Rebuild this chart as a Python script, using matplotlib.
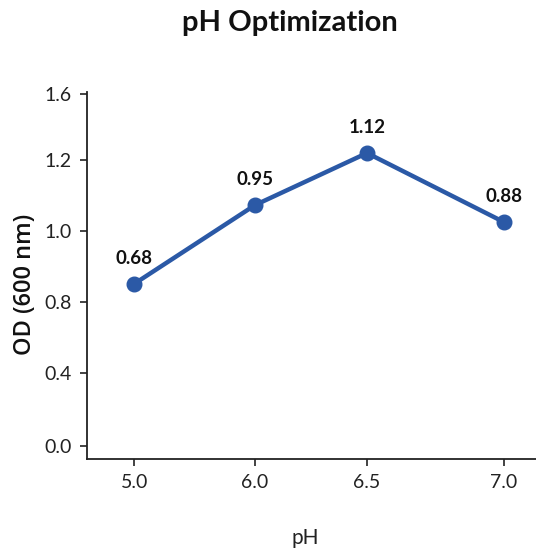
import numpy as np
import matplotlib
matplotlib.use("Agg")
import matplotlib.pyplot as plt

plt.rcParams['font.family'] = ['Lato', 'DejaVu Sans']

# data
ph_labels = ["5.0", "6.0", "6.5", "7.0"]
ph = [5.0, 6.0, 6.5, 7.0]
od_labels = ["0.68", "0.95", "1.12", "0.88"]   # printed values
od_drawn = [0.851, 1.073, 1.242, 1.025]         # where the dots sit on the axis
y_ticks = [0.0, 0.4, 0.8, 1.0, 1.2, 1.6]

# the picture's axes are not linear -> piecewise scale through the tick spots
x_spots = [0, 121, 233, 370]
y_spots = [0, 73, 144, 215, 286, 352]

def piecewise(v, xs, ys):
    v = np.asarray(v, dtype=float)
    out = np.interp(v, xs, ys)
    lo_slope = (ys[1] - ys[0]) / (xs[1] - xs[0])
    hi_slope = (ys[-1] - ys[-2]) / (xs[-1] - xs[-2])
    out = np.where(v < xs[0], ys[0] + (v - xs[0]) * lo_slope, out)
    out = np.where(v > xs[-1], ys[-1] + (v - xs[-1]) * hi_slope, out)
    return out

blue = "#2b59a6"

fig = plt.figure(figsize=(5.36, 5.52), dpi=100)
ax = fig.add_axes([0.1623, 0.1685, 0.8377, 0.6649])

ax.set_xscale('function', functions=(lambda v: piecewise(v, ph, x_spots),
                                     lambda p: piecewise(p, x_spots, ph)))
ax.set_yscale('function', functions=(lambda v: piecewise(v, y_ticks, y_spots),
                                     lambda p: piecewise(p, y_spots, y_ticks)))

ax.plot(ph, od_drawn, color=blue, lw=3.2, marker='o', ms=10.5, solid_capstyle='round', zorder=3)
for x, y, t in zip(ph, od_drawn, od_labels):
    ax.annotate(t, (x, y), xytext=(0, 12), textcoords='offset points',
                ha='center', va='bottom', fontsize=13.5, fontweight='bold', color='#111111')

ax.set_xlim(4.61, 7.117)
ax.set_ylim(-0.071, 1.612)
ax.set_xticks(ph)
ax.set_xticklabels(ph_labels)
ax.set_yticks(y_ticks)
ax.set_yticklabels(["%.1f" % t for t in y_ticks])
ax.minorticks_off()

for s in ['top', 'right']:
    ax.spines[s].set_visible(False)
for s in ['left', 'bottom']:
    ax.spines[s].set_linewidth(1.3)
    ax.spines[s].set_color('#222222')
ax.tick_params(axis='both', length=5, width=1.2, color='#222222', labelsize=14, labelcolor='#222222', pad=6)

ax.set_xlabel("pH", fontsize=15, color='#222222')
ax.xaxis.set_label_coords(0.486, -0.188)
ax.set_ylabel("OD (600 nm)", fontsize=17, fontweight='semibold', color='#111111',
              family=['Open Sans', 'DejaVu Sans'])
ax.yaxis.set_label_coords(-0.112, 0.477)

fig.text(0.541, 0.958, "pH Optimization", ha='center', va='center', fontsize=21, fontweight='bold', color='#111111')

fig.savefig("out.png", dpi=100)
